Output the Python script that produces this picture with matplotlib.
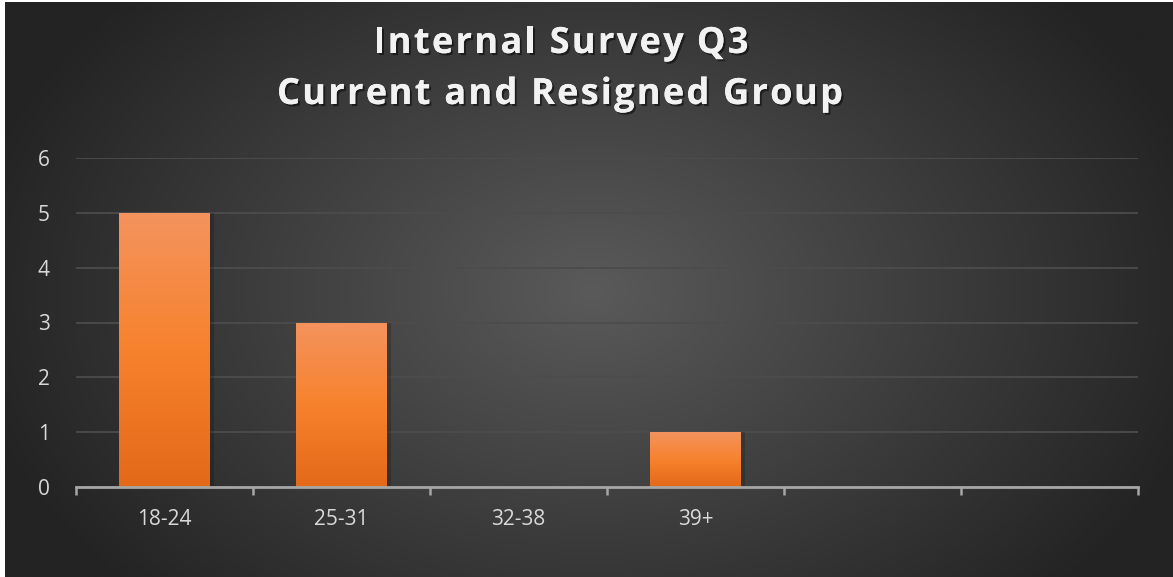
import matplotlib

matplotlib.use("Agg")

import matplotlib.pyplot as plt
import matplotlib.patheffects as pe
import numpy as np

# data
CATEGORIES = ["18-24", "25-31", "32-38", "39+", "", ""]
COUNTS = [5, 3, 0, 1, 0, 0]
Y_TICKS = [0, 1, 2, 3, 4, 5, 6]
TITLE_LINES = ["Internal Survey Q3", "Current and Resigned Group"]

BG_CENTER = np.array([0x5a, 0x5a, 0x5a]) / 255
BG_EDGE = np.array([0x23, 0x23, 0x23]) / 255
BAR_TOP = np.array([0xf4, 0x93, 0x5e]) / 255
BAR_MID = np.array([0xf7, 0x82, 0x2d]) / 255
BAR_BOTTOM = np.array([0xe3, 0x69, 0x18]) / 255
GRID = "#4c4c4c"
AXIS = "#a6a6a6"
TEXT = "#d9d9d9"
TITLE_COLOR = "#f2f2f2"

W, H = 1173, 577
fig = plt.figure(figsize=(W / 100, H / 100), dpi=100, facecolor="white")

# radial gradient chart background (white sliver on left/top like the source)
bg = fig.add_axes([5 / W, 0, 1 - 5 / W, 1 - 2 / H])
bg.set_axis_off()
yy, xx = np.mgrid[0:H, 0:W]
r = np.hypot((xx - 590) / 640, (yy - 290) / 440)
r = np.clip(r, 0, 1)[..., None]
img = BG_CENTER * (1 - r) + BG_EDGE * r
bg.imshow(img, aspect="auto", extent=[0, 1, 0, 1], zorder=0)

ax = fig.add_axes([76 / W, 1 - 487 / H, (1138 - 76) / W, (487 - 158) / H])
ax.patch.set_alpha(0)

x = np.arange(len(CATEGORIES))
bars = ax.bar(x, COUNTS, width=0.51, color=BAR_MID, zorder=3)

# vertical gradient fill on each bar
grad_t = np.linspace(0, 1, 256)[:, None]
top_half = grad_t < 0.5
grad = np.where(
    top_half[..., None],
    BAR_TOP + (BAR_MID - BAR_TOP) * (grad_t[..., None] / 0.5),
    BAR_MID + (BAR_BOTTOM - BAR_MID) * ((grad_t[..., None] - 0.5) / 0.5),
)
grad = grad.reshape(256, 1, 3)
for b in bars:
    if b.get_height() <= 0:
        continue
    x0, w, h = b.get_x(), b.get_width(), b.get_height()
    # soft shadow to the right
    ax.bar(x0 + w / 2 + 0.025, h, width=w, color="black", alpha=0.18, zorder=2)
    im = ax.imshow(grad, extent=[x0, x0 + w, 0, h], aspect="auto", zorder=4)
    im.set_clip_path(b)
    b.set_visible(False)

ax.set_xlim(-0.5, len(CATEGORIES) - 0.5)
ax.set_ylim(0, 6)
ax.set_yticks(Y_TICKS)
ax.yaxis.grid(True, color=GRID, linewidth=1.3, zorder=1)
ax.set_axisbelow(True)

for side in ["top", "right", "left"]:
    ax.spines[side].set_visible(False)
ax.spines["bottom"].set_color(AXIS)
ax.spines["bottom"].set_linewidth(2)
ax.spines["bottom"].set_zorder(5)

ax.set_xticks(x)
ax.set_xticklabels(CATEGORIES)
ax.set_xticks(np.arange(len(CATEGORIES) + 1) - 0.5, minor=True)
ax.tick_params(axis="x", which="major", length=0, pad=16, labelsize=15, labelcolor=TEXT)
ax.tick_params(axis="x", which="minor", length=6, width=1.8, color=AXIS, direction="out")
ax.tick_params(axis="y", length=0, pad=19, labelsize=15, labelcolor=TEXT)
for lab in ax.get_xticklabels() + ax.get_yticklabels():
    lab.set_fontfamily("Open Sans")

# title with letter spacing: place each character by hand
renderer = fig.canvas.get_renderer()
title_kw = dict(color=TITLE_COLOR, fontsize=26, fontweight="bold", fontfamily="Open Sans")
shadow = [pe.withSimplePatchShadow(offset=(1.5, -1.5), shadow_rgbFace="black", alpha=0.5), pe.Normal()]


def text_width(s):
    t = fig.text(0, 0, s, **title_kw)
    w = t.get_window_extent(renderer).width
    t.remove()
    return w


def tracked_line(s, center_x, baseline_y, target_width):
    ref = text_width("I")
    offsets = [0.0] + [text_width(s[:i] + "I") - ref for i in range(1, len(s))]
    natural = text_width(s)
    tracking = (target_width - natural) / (len(s) - 1)
    left = center_x - target_width / 2
    for i, ch in enumerate(s):
        if ch == " ":
            continue
        px = left + offsets[i] + tracking * i
        fig.text(px / W, 1 - baseline_y / H, ch, ha="left", va="baseline",
                 path_effects=shadow, **title_kw)


tracked_line(TITLE_LINES[0], 561, 53, 375)
tracked_line(TITLE_LINES[1], 560, 104, 566)

fig.savefig("out.png", dpi=100, facecolor="white")
